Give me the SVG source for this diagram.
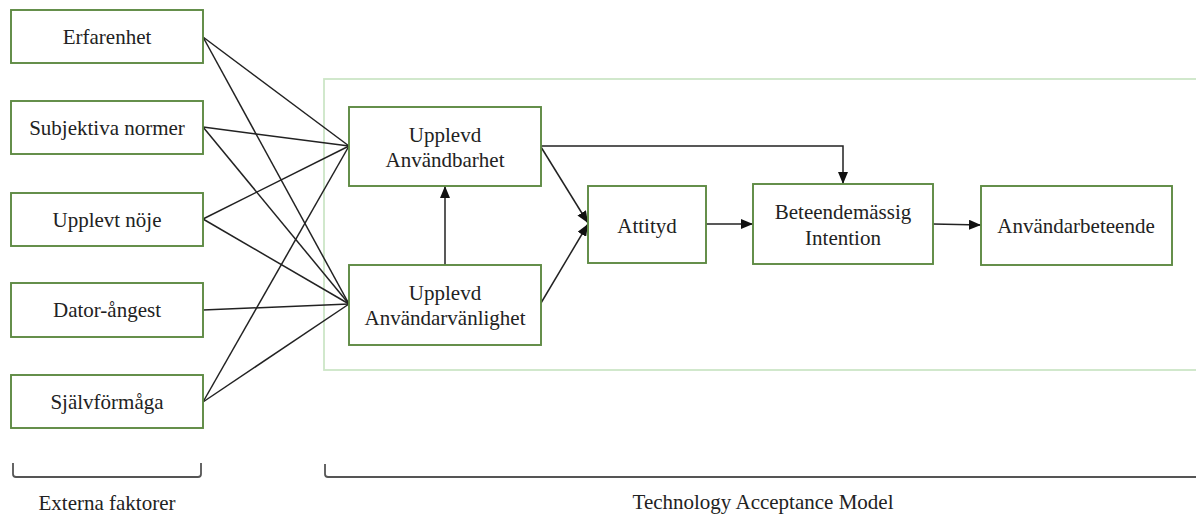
<svg xmlns="http://www.w3.org/2000/svg" width="1196" height="515" viewBox="0 0 1196 515">
<style>
.box{fill:#fff;stroke:#5e8a43;stroke-width:1.9}
.t{font-family:"Liberation Serif","Times New Roman",serif;font-size:21px;fill:#222;text-anchor:middle}
.ln{stroke:#222;stroke-width:1.5;fill:none}
.br{stroke:#555;stroke-width:1.8;fill:none}
</style>
<defs>
<marker id="ah" viewBox="0 0 12 10" refX="12" refY="5" markerWidth="12" markerHeight="10" markerUnits="userSpaceOnUse" orient="auto">
<path d="M0,0 L12,5 L0,10 Z" fill="#111"/>
</marker>
</defs>
<rect width="1196" height="515" fill="#fff"/>
<g id="tam-frame"><rect x="324" y="79" width="880" height="291" fill="none" stroke="#cde6c7" stroke-width="1.8"/></g>
<g id="connectors">
<line class="ln" x1="203" y1="37" x2="349" y2="146"/>
<line class="ln" x1="203" y1="37" x2="349" y2="304"/>
<line class="ln" x1="203" y1="127" x2="349" y2="146"/>
<line class="ln" x1="203" y1="127" x2="349" y2="304"/>
<line class="ln" x1="203" y1="219" x2="349" y2="146"/>
<line class="ln" x1="203" y1="219" x2="349" y2="304"/>
<line class="ln" x1="203" y1="310" x2="349" y2="304"/>
<line class="ln" x1="203" y1="402" x2="349" y2="146"/>
<line class="ln" x1="203" y1="402" x2="349" y2="304"/>
<polyline class="ln" points="541,146 843,146 843,184" marker-end="url(#ah)"/>
<line class="ln" x1="541" y1="147" x2="588" y2="223" marker-end="url(#ah)"/>
<line class="ln" x1="541" y1="303" x2="588" y2="224" marker-end="url(#ah)"/>
<line class="ln" x1="445" y1="265" x2="445" y2="186" marker-end="url(#ah)"/>
<line class="ln" x1="706" y1="224" x2="753" y2="224" marker-end="url(#ah)"/>
<line class="ln" x1="933" y1="224" x2="981" y2="225" marker-end="url(#ah)"/>
</g>
<g id="erfarenhet"><rect class="box" x="11" y="10" width="192" height="53"/><text class="t" x="107" y="44">Erfarenhet</text></g>
<g id="subjektiva-normer"><rect class="box" x="11" y="101" width="192" height="53"/><text class="t" x="107" y="135">Subjektiva normer</text></g>
<g id="upplevt-noje"><rect class="box" x="11" y="193" width="192" height="53"/><text class="t" x="107" y="227">Upplevt nöje</text></g>
<g id="dator-angest"><rect class="box" x="11" y="283" width="192" height="54"/><text class="t" x="107" y="317">Dator-ångest</text></g>
<g id="sjalvformaga"><rect class="box" x="11" y="375" width="192" height="53"/><text class="t" x="107" y="409">Självförmåga</text></g>
<g id="upplevd-anvandbarhet"><rect class="box" x="349" y="107" width="192" height="79"/><text class="t" x="445" y="142">Upplevd</text><text class="t" x="445" y="167">Användbarhet</text></g>
<g id="upplevd-anvandarvanlighet"><rect class="box" x="349" y="265" width="192" height="80"/><text class="t" x="445" y="300">Upplevd</text><text class="t" x="445" y="325">Användarvänlighet</text></g>
<g id="attityd"><rect class="box" x="588" y="186" width="118" height="77"/><text class="t" x="647" y="233">Attityd</text></g>
<g id="beteendemassig-intention"><rect class="box" x="753" y="184" width="180" height="80"/><text class="t" x="843" y="219">Beteendemässig</text><text class="t" x="843" y="245">Intention</text></g>
<g id="anvandarbeteende"><rect class="box" x="981" y="186" width="191" height="79"/><text class="t" x="1076" y="233">Användarbeteende</text></g>
<g id="brackets">
<path class="br" d="M13,463 V474 Q13,477 16,477 H198 Q201,477 201,474 V463"/>
<path class="br" d="M325,464 V474 Q325,477 328,477 H1200"/>
<text class="t" x="107" y="510">Externa faktorer</text>
<text class="t" x="763" y="509">Technology Acceptance Model</text>
</g>
</svg>
